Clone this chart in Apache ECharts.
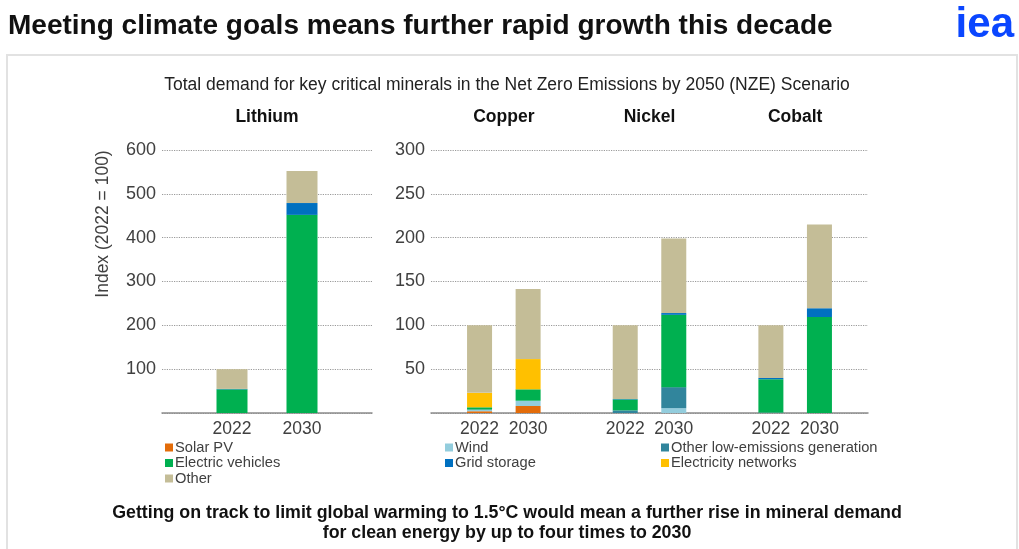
<!DOCTYPE html>
<html>
<head>
<meta charset="utf-8">
<script src="https://cdn.jsdelivr.net/npm/echarts@6/dist/echarts.min.js"></script>
<style>
html,body{margin:0;padding:0;background:#fff;}
#c{width:1019px;height:549px;}
</style>
</head>
<body>
<div id="c"></div>
<script>
// Data (index, 2022 = 100), order: Li22, Li30, Cu22, Cu30, Ni22, Ni30, Co22, Co30
const minerals = ['Lithium', 'Copper', 'Nickel', 'Cobalt'];
const years = ['2022', '2030'];
const solarPV    = [0, 0,    2, 8,      0, 0,      0, 0];
const wind       = [0, 0,    1.5, 6,    0, 5.5,    0, 0];
const otherLowEm = [0, 0,    0.5, 0,    3, 24,     0.5, 0];
const electricVehicles = [54, 452, 2.5, 13, 12.5, 82.5, 38, 109.5];
const gridStorage = [1, 27,  0, 0,      0.5, 2,    1.5, 10];
const electricityNetworks = [0, 0, 16.5, 34.5, 0, 0, 0, 0];
const other      = [45, 73,  77, 80,    84, 85,    60, 95.5];
const leftTicks = [0, 100, 200, 300, 400, 500, 600];
const rightTicks = [0, 50, 100, 150, 200, 250, 300];

const seriesDefs = [
  { name: 'Solar PV', data: solarPV, color: '#e36c0a' },
  { name: 'Wind', data: wind, color: '#93cddd' },
  { name: 'Other low-emissions generation', data: otherLowEm, color: '#31859c' },
  { name: 'Electric vehicles', data: electricVehicles, color: '#00b050' },
  { name: 'Grid storage', data: gridStorage, color: '#0070c0' },
  { name: 'Electricity networks', data: electricityNetworks, color: '#ffc000' },
  { name: 'Other', data: other, color: '#c4bd97' }
];

// Category layouts (boundaryGap false, blank spacer slots)
const leftCats = [''].concat(years, ['']);
const rightCats = [''];
for (let m = 1; m < minerals.length; m++) { rightCats.push(...years, ''); }

function leftData(arr) { return [null, arr[0], arr[1], null]; }
function rightData(arr) {
  const out = [null];
  for (let m = 1; m < minerals.length; m++) { out.push(arr[2 * m], arr[2 * m + 1], null); }
  return out;
}

const FONT = '"Liberation Sans", Arial, sans-serif';
const txt = '#404040';

const chart = echarts.init(document.getElementById('c'), null, { renderer: 'canvas' });

const series = [];
seriesDefs.forEach(s => {
  series.push({
    name: s.name, type: 'bar', stack: 'left', xAxisIndex: 0, yAxisIndex: 0,
    data: leftData(s.data), barWidth: 31, itemStyle: { color: s.color },
    emphasis: { disabled: true }
  });
  series.push({
    name: s.name, type: 'bar', stack: 'right', xAxisIndex: 1, yAxisIndex: 1,
    data: rightData(s.data), barWidth: 25, itemStyle: { color: s.color },
    emphasis: { disabled: true }
  });
});

function yAxis(idx, ticks) {
  return {
    type: 'value', gridIndex: idx, min: ticks[0], max: ticks[ticks.length - 1],
    interval: ticks[1] - ticks[0],
    axisLine: { show: false }, axisTick: { show: false },
    axisLabel: { formatter: v => (v === 0 ? '' : String(v)), fontFamily: FONT, fontSize: 18, color: txt, margin: 6 },
    splitLine: { show: true, lineStyle: { type: 'dotted', color: '#9a9a9a', width: 1.2 } }
  };
}
function xAxis(idx, cats) {
  return {
    type: 'category', gridIndex: idx, data: cats, boundaryGap: false,
    axisLine: { show: true, lineStyle: { color: '#8c8c8c', width: 1.5 } },
    axisTick: { show: false },
    axisLabel: { interval: 0, fontFamily: FONT, fontSize: 17.5, color: txt, margin: 7 },
    splitLine: { show: false }
  };
}

function legend(left, names) {
  return {
    orient: 'vertical', left: left, top: 435, data: names,
    itemWidth: 8, itemHeight: 8, itemGap: 0.5, icon: 'rect',
    textStyle: { fontFamily: FONT, fontSize: 14.7, color: txt, lineHeight: 15, padding: [0, 0, 0, -3] },
    selectedMode: false
  };
}

chart.setOption({
  animation: false,
  backgroundColor: '#ffffff',
  grid: [
    { left: 162, width: 210, top: 150, bottom: 136 },
    { left: 431, width: 437, top: 150, bottom: 136 }
  ],
  xAxis: [xAxis(0, leftCats), xAxis(1, rightCats)],
  yAxis: [yAxis(0, leftTicks), yAxis(1, rightTicks)],
  legend: [
    legend(160, ['Solar PV', 'Electric vehicles', 'Other']),
    legend(440, ['Wind', 'Grid storage']),
    legend(656, ['Other low-emissions generation', 'Electricity networks'])
  ],
  series: series
});

// Mineral headers centered between each year pair
const headers = minerals.map((m, i) => {
  let x;
  if (i === 0) {
    const a = chart.convertToPixel({ xAxisIndex: 0 }, 1);
    const b = chart.convertToPixel({ xAxisIndex: 0 }, 2);
    x = (a + b) / 2;
  } else {
    const a = chart.convertToPixel({ xAxisIndex: 1 }, 3 * (i - 1) + 1);
    const b = chart.convertToPixel({ xAxisIndex: 1 }, 3 * (i - 1) + 2);
    x = (a + b) / 2;
  }
  return {
    type: 'text', x: x, y: 117,
    style: { text: m, font: 'bold 17.5px ' + FONT, fill: '#111', align: 'center', verticalAlign: 'middle' }
  };
});

chart.setOption({
  graphic: [
    { type: 'rect', shape: { x: 7, y: 55, width: 1010, height: 600 }, style: { fill: 'none', stroke: '#e2e2e2', lineWidth: 2 }, z: -1 },
    { type: 'text', x: 8, y: 26, style: { text: 'Meeting climate goals means further rapid growth this decade', font: 'bold 28px ' + FONT, fill: '#111', verticalAlign: 'middle' } },
    { type: 'text', x: 1014, y: 25, style: { text: 'iea', font: 'bold 42px ' + FONT, fill: '#0a46ff', align: 'right', verticalAlign: 'middle' } },
    { type: 'text', x: 507, y: 85, style: { text: 'Total demand for key critical minerals in the Net Zero Emissions by 2050 (NZE) Scenario', font: '17.5px ' + FONT, fill: '#222', align: 'center', verticalAlign: 'middle' } },
    { type: 'text', x: 103, y: 224, rotation: Math.PI / 2, style: { text: 'Index (2022 = 100)', font: '17.5px ' + FONT, fill: txt, align: 'center', verticalAlign: 'middle' } },
    { type: 'text', x: 507, y: 523, style: { text: 'Getting on track to limit global warming to 1.5°C would mean a further rise in mineral demand\nfor clean energy by up to four times to 2030', font: 'bold 17.8px ' + FONT, fill: '#111', align: 'center', verticalAlign: 'middle', lineHeight: 20 } }
  ].concat(headers)
});
</script>
</body>
</html>
